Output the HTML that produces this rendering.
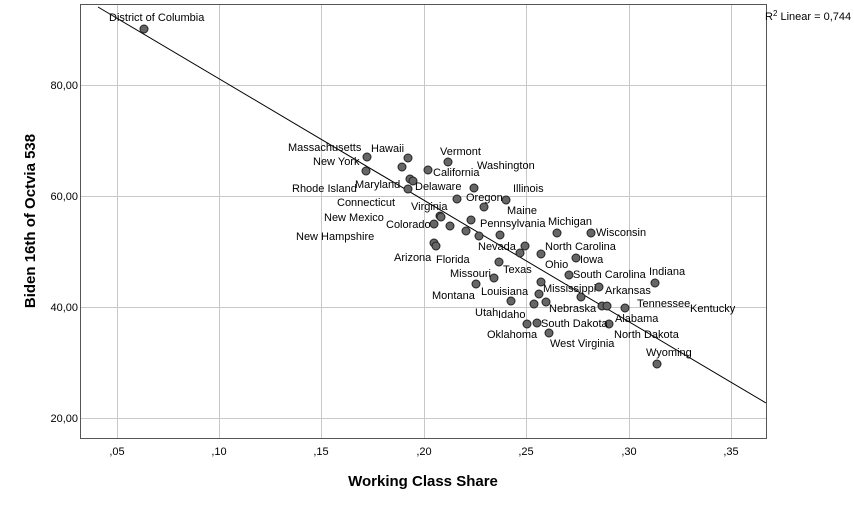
<!DOCTYPE html>
<html><head><meta charset="utf-8"><style>
body{margin:0;background:#fff}
svg text{font-family:"Liberation Sans",Arial,sans-serif}
</style></head><body>
<svg width="854" height="504" xmlns="http://www.w3.org/2000/svg">
<g stroke="#c8c8c8" stroke-width="1">
<line x1="117.5" y1="5" x2="117.5" y2="438"/><line x1="219.5" y1="5" x2="219.5" y2="438"/><line x1="321.5" y1="5" x2="321.5" y2="438"/><line x1="424.5" y1="5" x2="424.5" y2="438"/><line x1="526.5" y1="5" x2="526.5" y2="438"/><line x1="629.5" y1="5" x2="629.5" y2="438"/><line x1="731.5" y1="5" x2="731.5" y2="438"/>
<line x1="80" y1="85.5" x2="766" y2="85.5"/><line x1="80" y1="196.5" x2="766" y2="196.5"/><line x1="80" y1="307.5" x2="766" y2="307.5"/><line x1="80" y1="418.5" x2="766" y2="418.5"/>
</g>
<rect x="80.5" y="4.5" width="686" height="434" fill="none" stroke="#555"/>
<g font-size="11" fill="#000">
<text x="78" y="89" text-anchor="end">80,00</text><text x="78" y="200" text-anchor="end">60,00</text><text x="78" y="311" text-anchor="end">40,00</text><text x="78" y="422" text-anchor="end">20,00</text>
<text x="117" y="455" text-anchor="middle">,05</text><text x="219" y="455" text-anchor="middle">,10</text><text x="321" y="455" text-anchor="middle">,15</text><text x="424" y="455" text-anchor="middle">,20</text><text x="526" y="455" text-anchor="middle">,25</text><text x="629" y="455" text-anchor="middle">,30</text><text x="731" y="455" text-anchor="middle">,35</text>
</g>
<text x="423" y="486" font-size="15" font-weight="bold" text-anchor="middle">Working Class Share</text>
<text transform="translate(35,221) rotate(-90)" font-size="15" font-weight="bold" text-anchor="middle">Biden 16th of Octvia 538</text>
<text x="765" y="20" font-size="11">R<tspan font-size="8" dy="-4">2</tspan><tspan dy="4"> Linear = 0,744</tspan></text>
<line x1="98" y1="7" x2="766" y2="403" stroke="#000" stroke-width="1"/>
<g fill="#666" stroke="#222" stroke-width="1">
<circle cx="144" cy="29" r="4"/><circle cx="367" cy="157" r="4"/><circle cx="408" cy="158" r="4"/><circle cx="366" cy="171" r="4"/><circle cx="402" cy="167" r="4"/><circle cx="448" cy="162" r="4"/><circle cx="428" cy="170" r="4"/><circle cx="410" cy="179" r="4"/><circle cx="413" cy="181" r="4"/><circle cx="408" cy="189" r="4"/><circle cx="474" cy="188" r="4"/><circle cx="457" cy="199" r="4"/><circle cx="484" cy="207" r="4"/><circle cx="506" cy="200" r="4"/><circle cx="440" cy="216" r="4"/><circle cx="441" cy="217" r="4"/><circle cx="471" cy="220" r="4"/><circle cx="434" cy="224" r="4"/><circle cx="450" cy="226" r="4"/><circle cx="466" cy="231" r="4"/><circle cx="479" cy="236" r="4"/><circle cx="500" cy="235" r="4"/><circle cx="434" cy="243" r="4"/><circle cx="436" cy="246" r="4"/><circle cx="525" cy="246" r="4"/><circle cx="520" cy="253" r="4"/><circle cx="541" cy="254" r="4"/><circle cx="499" cy="262" r="4"/><circle cx="494" cy="278" r="4"/><circle cx="557" cy="233" r="4"/><circle cx="591" cy="233" r="4"/><circle cx="576" cy="258" r="4"/><circle cx="569" cy="275" r="4"/><circle cx="655" cy="283" r="4"/><circle cx="541" cy="282" r="4"/><circle cx="476" cy="284" r="4"/><circle cx="599" cy="287" r="4"/><circle cx="539" cy="294" r="4"/><circle cx="581" cy="297" r="4"/><circle cx="511" cy="301" r="4"/><circle cx="534" cy="304" r="4"/><circle cx="546" cy="302" r="4"/><circle cx="602" cy="306" r="4"/><circle cx="607" cy="306" r="4"/><circle cx="625" cy="308" r="4"/><circle cx="527" cy="324" r="4"/><circle cx="537" cy="323" r="4"/><circle cx="609" cy="324" r="4"/><circle cx="549" cy="333" r="4"/><circle cx="657" cy="364" r="4"/>
</g>
<g font-size="11" fill="#000">
<text x="109" y="21">District of Columbia</text>
<text x="288" y="151">Massachusetts</text><text x="371" y="152">Hawaii</text><text x="313" y="165">New York</text><text x="440" y="155">Vermont</text><text x="477" y="169">Washington</text><text x="433" y="176">California</text><text x="292" y="192">Rhode Island</text><text x="355" y="188">Maryland</text><text x="415" y="190">Delaware</text><text x="513" y="192">Illinois</text><text x="466" y="201">Oregon</text><text x="337" y="206">Connecticut</text><text x="411" y="210">Virginia</text><text x="507" y="214">Maine</text><text x="324" y="221">New Mexico</text><text x="386" y="228">Colorado</text><text x="480" y="227">Pennsylvania</text><text x="548" y="225">Michigan</text><text x="596" y="236">Wisconsin</text><text x="296" y="240">New Hampshire</text><text x="478" y="250">Nevada</text><text x="545" y="250">North Carolina</text><text x="580" y="263">Iowa</text><text x="394" y="261">Arizona</text><text x="436" y="263">Florida</text><text x="545" y="268">Ohio</text><text x="503" y="273">Texas</text><text x="573" y="278">South Carolina</text><text x="649" y="275">Indiana</text><text x="450" y="277">Missouri</text><text x="543" y="292">Mississippi</text><text x="605" y="294">Arkansas</text><text x="481" y="295">Louisiana</text><text x="432" y="299">Montana</text><text x="637" y="307">Tennessee</text><text x="690" y="312">Kentucky</text><text x="549" y="312">Nebraska</text><text x="475" y="316">Utah</text><text x="498" y="318">Idaho</text><text x="615" y="322">Alabama</text><text x="541" y="327">South Dakota</text><text x="487" y="338">Oklahoma</text><text x="614" y="338">North Dakota</text><text x="550" y="347">West Virginia</text><text x="646" y="356">Wyoming</text>
</g>
</svg>
</body></html>
